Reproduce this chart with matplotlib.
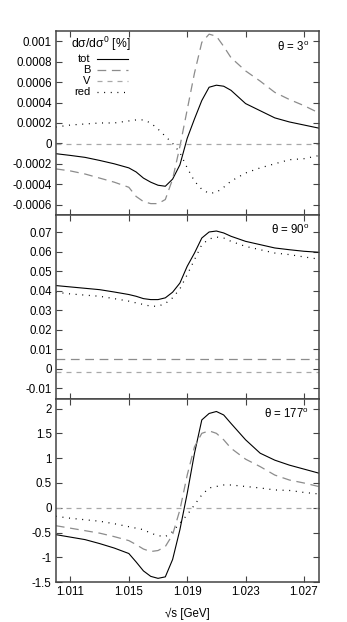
import numpy as np
import matplotlib
matplotlib.use("Agg")
import matplotlib.pyplot as plt
from matplotlib.ticker import FuncFormatter, MultipleLocator
from matplotlib.lines import Line2D

plt.rcParams['font.family'] = ['Liberation Sans', 'DejaVu Sans']
plt.rcParams['font.size'] = 8.3
plt.rcParams['axes.unicode_minus'] = False
plt.rcParams['mathtext.fontset'] = 'custom'
plt.rcParams['mathtext.rm'] = 'Liberation Sans'
plt.rcParams['mathtext.it'] = 'Liberation Sans'

# sqrt(s) grid [GeV]
sqrt_s = [1.010, 1.011, 1.012, 1.013, 1.014, 1.015, 1.0155, 1.016, 1.0165, 1.017,
          1.0175, 1.018, 1.0185, 1.019, 1.0195, 1.020, 1.0205, 1.021, 1.0215, 1.022,
          1.023, 1.024, 1.025, 1.026, 1.027, 1.028]

# theta = 3 deg
tot_3 = [-0.000101, -0.000118, -0.000137, -0.000167, -0.0002, -0.00024, -0.00028, -0.00034,
         -0.00038, -0.00041, -0.00042, -0.00035, -0.00021, 0.00005, 0.00024, 0.00042,
         0.00055, 0.00057, 0.00056, 0.00052, 0.00039, 0.00032, 0.00025, 0.00021, 0.00018, 0.00015]
B_3 = [-0.00025, -0.00027, -0.0003, -0.00034, -0.00038, -0.00043, -0.00052, -0.00057,
       -0.00059, -0.00059, -0.00055, -0.00035, -0.00003, 0.00033, 0.00069, 0.00099,
       0.00107, 0.00105, 0.00095, 0.00084, 0.00071, 0.00061, 0.0005, 0.00043, 0.00037, 0.0003]
V_3 = [-0.000005] * 26
red_3 = [0.00016, 0.00018, 0.00019, 0.0002, 0.0002, 0.00022, 0.00023, 0.00023, 0.0002,
         0.00014, 0.00007, 0.0, -0.00009, -0.00024, -0.00037, -0.00045, -0.00049, -0.00048,
         -0.00043, -0.00037, -0.00029, -0.00024, -0.0002, -0.00016, -0.00015, -0.00012]

# theta = 90 deg
tot_90 = [0.0427, 0.042, 0.0413, 0.0406, 0.0394, 0.0381, 0.0372, 0.036, 0.0355, 0.0355,
          0.0364, 0.0393, 0.044, 0.0526, 0.0594, 0.0671, 0.0702, 0.0707, 0.0697, 0.068,
          0.0654, 0.0637, 0.062, 0.0611, 0.0603, 0.0598]
B_90 = [0.0051] * 26
V_90 = [-0.0017] * 26
red_90 = [0.0393, 0.0384, 0.0378, 0.0372, 0.036, 0.0347, 0.0338, 0.033, 0.0321, 0.0321,
          0.0335, 0.0364, 0.041, 0.0483, 0.056, 0.0637, 0.0666, 0.0676, 0.0671, 0.0654,
          0.0628, 0.0611, 0.0594, 0.0586, 0.0574, 0.0563]

# theta = 177 deg
tot_177 = [-0.54, -0.59, -0.64, -0.72, -0.81, -0.92, -1.09, -1.27, -1.38, -1.42, -1.39,
           -1.04, -0.44, 0.29, 1.1, 1.77, 1.9, 1.94, 1.87, 1.7, 1.37, 1.1, 0.96, 0.86, 0.78, 0.7]
B_177 = [-0.36, -0.41, -0.46, -0.51, -0.58, -0.66, -0.74, -0.83, -0.88, -0.86, -0.78,
         -0.54, -0.04, 0.66, 1.23, 1.5, 1.55, 1.5, 1.37, 1.2, 0.98, 0.83, 0.66, 0.56, 0.5, 0.43]
V_177 = [0.0] * 26
red_177 = [-0.17, -0.21, -0.24, -0.27, -0.32, -0.38, -0.41, -0.44, -0.51, -0.56, -0.58,
           -0.48, -0.31, -0.14, 0.06, 0.26, 0.4, 0.43, 0.46, 0.46, 0.43, 0.4, 0.36, 0.35, 0.31, 0.28]

panels = [
    ("θ = 3$^{\\rm o}$", tot_3, B_3, V_3, red_3, (-0.0007, 0.0011), 0.0002),
    ("θ = 90$^{\\rm o}$", tot_90, B_90, V_90, red_90, (-0.0153, 0.079), 0.01),
    ("θ = 177$^{\\rm o}$", tot_177, B_177, V_177, red_177, (-1.5, 2.2), 0.5),
]

styles = {
    'tot': dict(color='black', lw=0.8, ls='-'),
    'B': dict(color='#8c8c8c', lw=0.9, ls=(0, (7, 4.5))),
    'V': dict(color='#a8a8a8', lw=0.9, ls=(0, (4, 4))),
    'red': dict(color='black', lw=0.9, ls=(0, (0.8, 4.5))),
}

fig, axes = plt.subplots(3, 1, figsize=(3.47, 6.22), dpi=100, sharex=True)
fig.subplots_adjust(left=0.161, right=0.918, top=0.950, bottom=0.0638, hspace=0)

fmt = FuncFormatter(lambda v, p: "%g" % (round(v, 6) + 0.0))

for ax, (title, tot, B, V, red, ylim, step) in zip(axes, panels):
    ax.plot(sqrt_s, tot, **styles['tot'])
    ax.plot(sqrt_s, B, **styles['B'])
    ax.plot(sqrt_s, V, **styles['V'])
    ax.plot(sqrt_s, red, **styles['red'])
    ax.set_xlim(1.010, 1.028)
    ax.set_ylim(*ylim)
    ax.yaxis.set_major_locator(MultipleLocator(step))
    ax.yaxis.set_major_formatter(fmt)
    ax.set_xticks([1.011, 1.015, 1.019, 1.023, 1.027])
    ax.xaxis.set_major_formatter(FuncFormatter(lambda v, p: "%.3f" % v))
    ax.tick_params(direction='in', top=True, right=True, length=4, width=0.8,
                   color='#444444', labelsize=8.3, pad=3)
    for sp in ax.spines.values():
        sp.set_color('#444444')
        sp.set_linewidth(1.1)
    ax.text(0.965, 0.915, title, transform=ax.transAxes, ha='right', va='center', fontsize=8.3)

# legend drawn gnuplot-style: right-aligned keys, samples on the right
ax0 = axes[0]
ax0.text(0.057, 0.932, "dσ/dσ$^0$ [%]", transform=ax0.transAxes, ha='left', va='center',
         fontsize=8.8)
rows = [0.850, 0.791, 0.731, 0.669]
for name, yy in zip(['tot', 'B', 'V', 'red'], rows):
    ax0.text(0.130, yy, name, transform=ax0.transAxes, ha='right', va='center', fontsize=8.0)
    ax0.add_line(Line2D([0.156, 0.274], [yy, yy], transform=ax0.transAxes, **styles[name]))

axes[2].set_xlabel("√s [GeV]", fontsize=8.3, labelpad=7)

fig.savefig("out.png", dpi=100)
